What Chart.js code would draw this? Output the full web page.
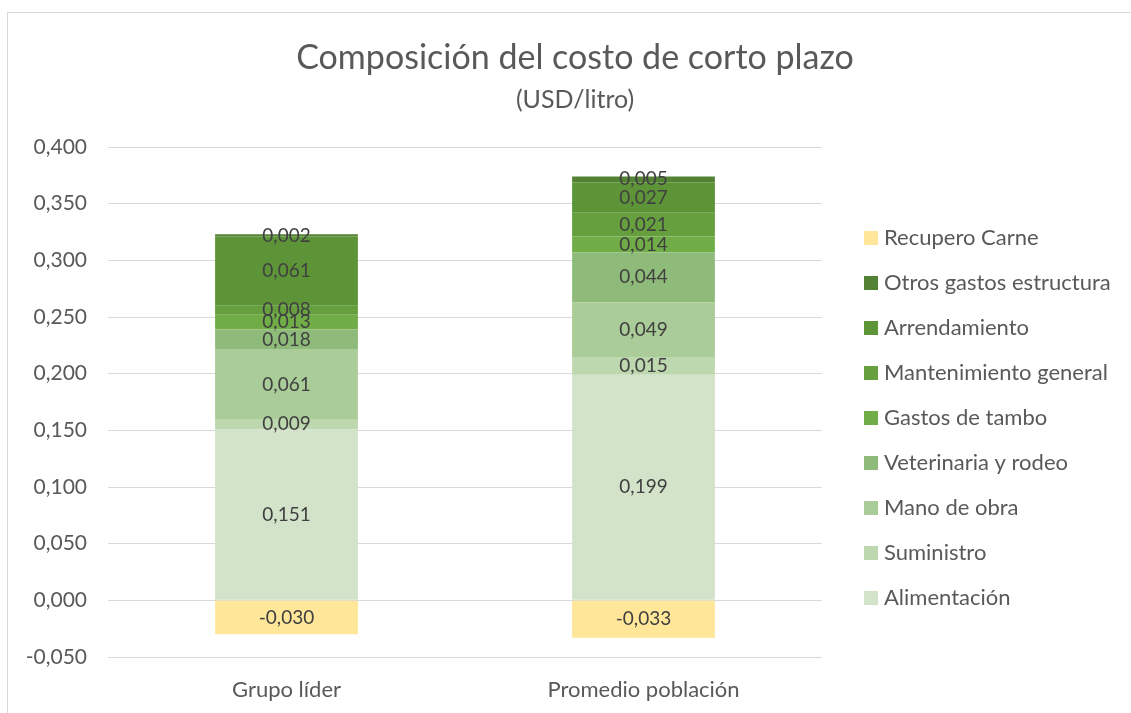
<!DOCTYPE html>
<html>
<head>
<meta charset="utf-8">
<script src="https://cdn.jsdelivr.net/npm/chart.js@4/dist/chart.umd.min.js"></script>
<style>
  html, body { margin: 0; padding: 0; background: #fff; }
  #wrap { position: relative; width: 1131px; height: 713px; }
  #frame { position: absolute; left: 7px; top: 12px; right: 0; bottom: 0; border-left: 1px solid #d9d9d9; border-top: 1px solid #d9d9d9; pointer-events: none; }
</style>
</head>
<body>
<div id="wrap">
  <canvas id="chart" width="1131" height="713"></canvas>
  <div id="frame"></div>
</div>
<script>
// Chart data
const categories = ['Grupo líder', 'Promedio población'];
const seriesNames = ['Alimentación', 'Suministro', 'Mano de obra', 'Veterinaria y rodeo', 'Gastos de tambo',
                     'Mantenimiento general', 'Arrendamiento', 'Otros gastos estructura', 'Recupero Carne'];
const alimentacion = [0.151, 0.199];
const suministro = [0.009, 0.015];
const manoDeObra = [0.061, 0.049];
const veterinaria = [0.018, 0.044];
const gastosTambo = [0.013, 0.014];
const mantenimiento = [0.008, 0.021];
const arrendamiento = [0.061, 0.027];
const otrosGastos = [0.002, 0.005];
const recuperoCarne = [-0.030, -0.033];
const yTicks = [-0.05, 0, 0.05, 0.1, 0.15, 0.2, 0.25, 0.3, 0.35, 0.4];

const seriesValues = [alimentacion, suministro, manoDeObra, veterinaria, gastosTambo,
                      mantenimiento, arrendamiento, otrosGastos, recuperoCarne];
const colors = ['#d3e3ca', '#bdd7ae', '#a9cc98', '#8fbb7a', '#70ad47',
                '#66a03e', '#5e9438', '#548235', '#ffe699'];

const fontFamily = 'Lato, "Open Sans", sans-serif';
const fmt = v => v.toFixed(3).replace('.', ',');

// Draws title, data labels and legend
const decorations = {
    id: 'decorations',
    afterDatasetsDraw(chart) {
        const ctx = chart.ctx;
        ctx.save();
        ctx.fillStyle = '#404040';
        ctx.font = '19px ' + fontFamily;
        ctx.textAlign = 'center';
        ctx.textBaseline = 'middle';
        chart.data.datasets.forEach((ds, i) => {
            const meta = chart.getDatasetMeta(i);
            meta.data.forEach((bar, j) => {
                const y = (bar.y + bar.base) / 2;
                ctx.fillText(fmt(ds.data[j]), bar.x, y);
            });
        });
        ctx.restore();
    },
    afterDraw(chart) {
        const ctx = chart.ctx;
        ctx.save();
        ctx.fillStyle = '#595959';
        ctx.textAlign = 'center';
        ctx.textBaseline = 'middle';
        ctx.font = '34px ' + fontFamily;
        ctx.fillText('Composición del costo de corto plazo', 575, 58);
        ctx.font = '25px ' + fontFamily;
        ctx.fillText('(USD/litro)', 575, 100);

        // legend, reversed order like Excel
        ctx.textAlign = 'left';
        ctx.font = '22px ' + fontFamily;
        const n = chart.data.datasets.length;
        for (let k = 0; k < n; k++) {
            const ds = chart.data.datasets[n - 1 - k];
            const y = 238 + k * 45;
            ctx.fillStyle = ds.backgroundColor;
            ctx.fillRect(864, y - 7, 14, 14);
            ctx.fillStyle = '#595959';
            ctx.fillText(ds.label, 884, y);
        }
        ctx.restore();
    }
};

const ctx = document.getElementById('chart').getContext('2d');
const chart = new Chart(ctx, {
    type: 'bar',
    data: {
        labels: categories,
        datasets: seriesNames.map((name, i) => ({
            label: name,
            data: seriesValues[i],
            backgroundColor: colors[i],
            borderWidth: 0,
            categoryPercentage: 1,
            barPercentage: 0.4
        }))
    },
    options: {
        responsive: false,
        animation: false,
        layout: { padding: { top: 147, right: 309, bottom: 0, left: 0 } },
        plugins: {
            legend: { display: false },
            title: { display: false },
            tooltip: { enabled: false }
        },
        scales: {
            x: {
                stacked: true,
                grid: { display: false },
                border: { display: false },
                ticks: { color: '#595959', font: { family: fontFamily, size: 22 }, padding: 12 },
                afterFit: s => { s.height = 56; }
            },
            y: {
                stacked: true,
                min: -0.05,
                max: 0.4,
                afterBuildTicks: s => { s.ticks = yTicks.map(v => ({ value: v })); },
                grid: { color: '#d9d9d9', lineWidth: 1, drawTicks: false },
                border: { display: false },
                ticks: {
                    color: '#595959',
                    font: { family: fontFamily, size: 21 },
                    padding: 21,
                    callback: v => fmt(v)
                },
                afterFit: s => { s.width = 108; }
            }
        }
    },
    plugins: [decorations]
});
</script>
</body>
</html>
